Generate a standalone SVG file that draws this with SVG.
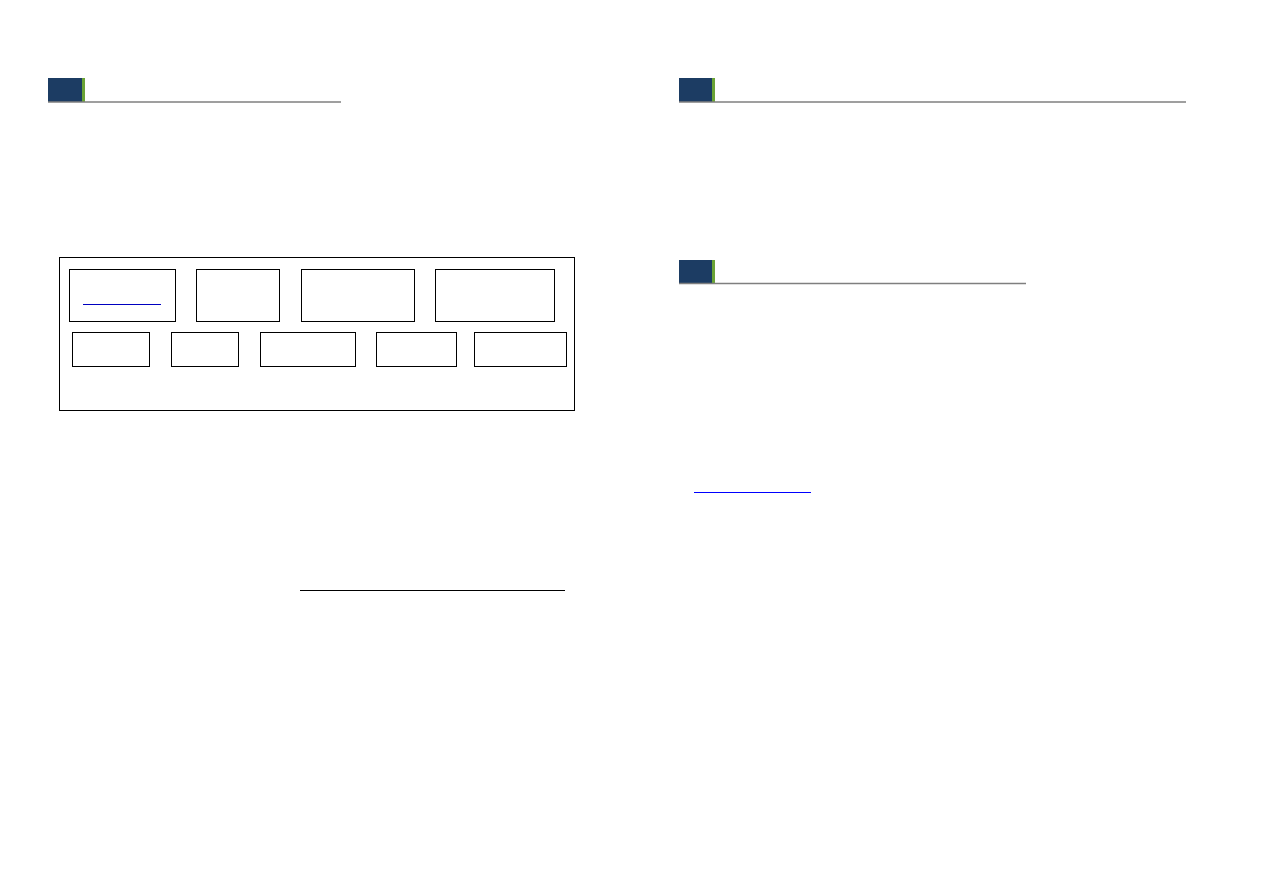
<svg xmlns="http://www.w3.org/2000/svg" width="1262" height="893" viewBox="0 0 1262 893">
<style>
.hdr{fill:#1c3c63}
.acc{fill:#6aa336}
.rule{stroke:#7f7f7f;stroke-width:1.5;fill:none}
.box{fill:#ffffff;stroke:#000000;stroke-width:1}
.ul{stroke:#000000;stroke-width:1;fill:none}
.link{stroke:#0000ff;stroke-width:1;fill:none}
</style>
<rect x="0" y="0" width="1262" height="893" fill="#ffffff"/>
<g id="header-1">
<rect class="hdr" x="48" y="78" width="34" height="24"/>
<rect class="acc" x="82" y="78" width="3" height="24"/>
<line class="rule" x1="48" y1="102" x2="341" y2="102"/>
</g>
<g id="header-2">
<rect class="hdr" x="679" y="78" width="33" height="24"/>
<rect class="acc" x="712" y="78" width="3" height="24"/>
<line class="rule" x1="679" y1="102" x2="1186" y2="102"/>
</g>
<g id="header-3">
<rect class="hdr" x="679" y="260" width="33" height="24"/>
<rect class="acc" x="712" y="260" width="3" height="24"/>
<line class="rule" x1="679" y1="283.5" x2="1026" y2="283.5"/>
</g>
<g id="frame">
<rect class="box" x="59.5" y="257.5" width="515" height="153"/>
</g>
<g id="node-r1-1">
<rect class="box" x="69.5" y="269.5" width="106" height="52"/>
<line stroke="#0000c0" stroke-width="1" x1="83" y1="304.5" x2="161" y2="304.5"/>
</g>
<g id="node-r1-2"><rect class="box" x="196.5" y="269.5" width="83" height="52"/></g>
<g id="node-r1-3"><rect class="box" x="301.5" y="269.5" width="113" height="52"/></g>
<g id="node-r1-4"><rect class="box" x="435.5" y="269.5" width="119" height="52"/></g>
<g id="node-r2-1"><rect class="box" x="72.5" y="332.5" width="77" height="34"/></g>
<g id="node-r2-2"><rect class="box" x="171.5" y="332.5" width="67" height="34"/></g>
<g id="node-r2-3"><rect class="box" x="260.5" y="332.5" width="95" height="34"/></g>
<g id="node-r2-4"><rect class="box" x="376.5" y="332.5" width="80" height="34"/></g>
<g id="node-r2-5"><rect class="box" x="474.5" y="332.5" width="92" height="34"/></g>
<g id="connectors"></g>
<g id="underline"><line class="ul" x1="300" y1="590.5" x2="565" y2="590.5"/></g>
<g id="link"><line class="link" x1="694" y1="492.5" x2="811" y2="492.5"/></g>
</svg>
